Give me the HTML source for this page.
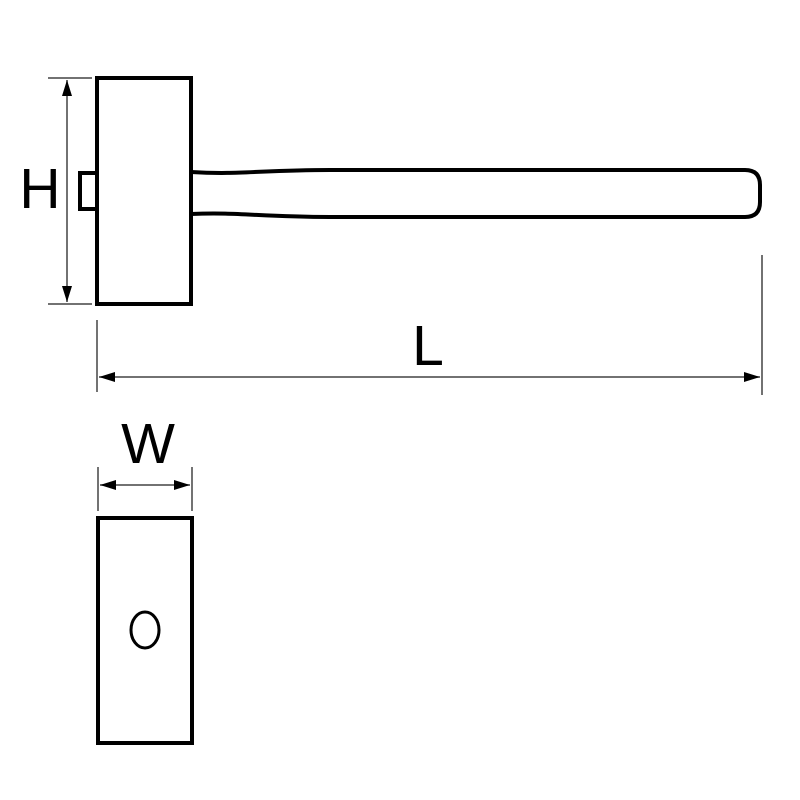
<!DOCTYPE html>
<html><head><style>html,body{margin:0;padding:0;background:#fff;}svg{display:block}</style></head>
<body>
<svg width="800" height="800" viewBox="0 0 800 800" xmlns="http://www.w3.org/2000/svg">
<defs>
<marker id="a" viewBox="0 0 16 10" refX="16" refY="5" markerWidth="16" markerHeight="10" markerUnits="userSpaceOnUse" orient="auto-start-reverse"><path d="M0,0 L16,5 L0,10 z" fill="#000"/></marker>
</defs>
<g fill="none" stroke="#000" stroke-width="4">
<rect x="97" y="78" width="94" height="226"/>
<path d="M96,173 H80 V209 H96"/>
<path d="M191,172 C240,175 260,170 330,170 L745,170 Q760,170 760,185 L760,202 Q760,217 745,217 L330,217 C260,217 240,212 191,214"/>
<rect x="98" y="518" width="94" height="225"/>
<ellipse cx="145" cy="630" rx="14" ry="18" stroke-width="3"/>
</g>
<g stroke="#444" stroke-width="1.5" fill="none">
<line x1="48" y1="78" x2="92" y2="78"/>
<line x1="48" y1="304" x2="92" y2="304"/>
<line x1="67" y1="80" x2="67" y2="302" marker-start="url(#a)" marker-end="url(#a)"/>
<line x1="97" y1="320" x2="97" y2="392"/>
<line x1="762" y1="255" x2="762" y2="395"/>
<line x1="99" y1="377" x2="760" y2="377" marker-start="url(#a)" marker-end="url(#a)"/>
<line x1="98" y1="467" x2="98" y2="511"/>
<line x1="192" y1="467" x2="192" y2="511"/>
<line x1="100" y1="485" x2="190" y2="485" marker-start="url(#a)" marker-end="url(#a)"/>
</g>
<g font-family="Liberation Sans, sans-serif" font-size="57" fill="#000" text-anchor="middle">
<text x="40" y="208">H</text>
<text x="428" y="365">L</text>
<text x="148" y="463">W</text>
</g>
</svg>
</body></html>
